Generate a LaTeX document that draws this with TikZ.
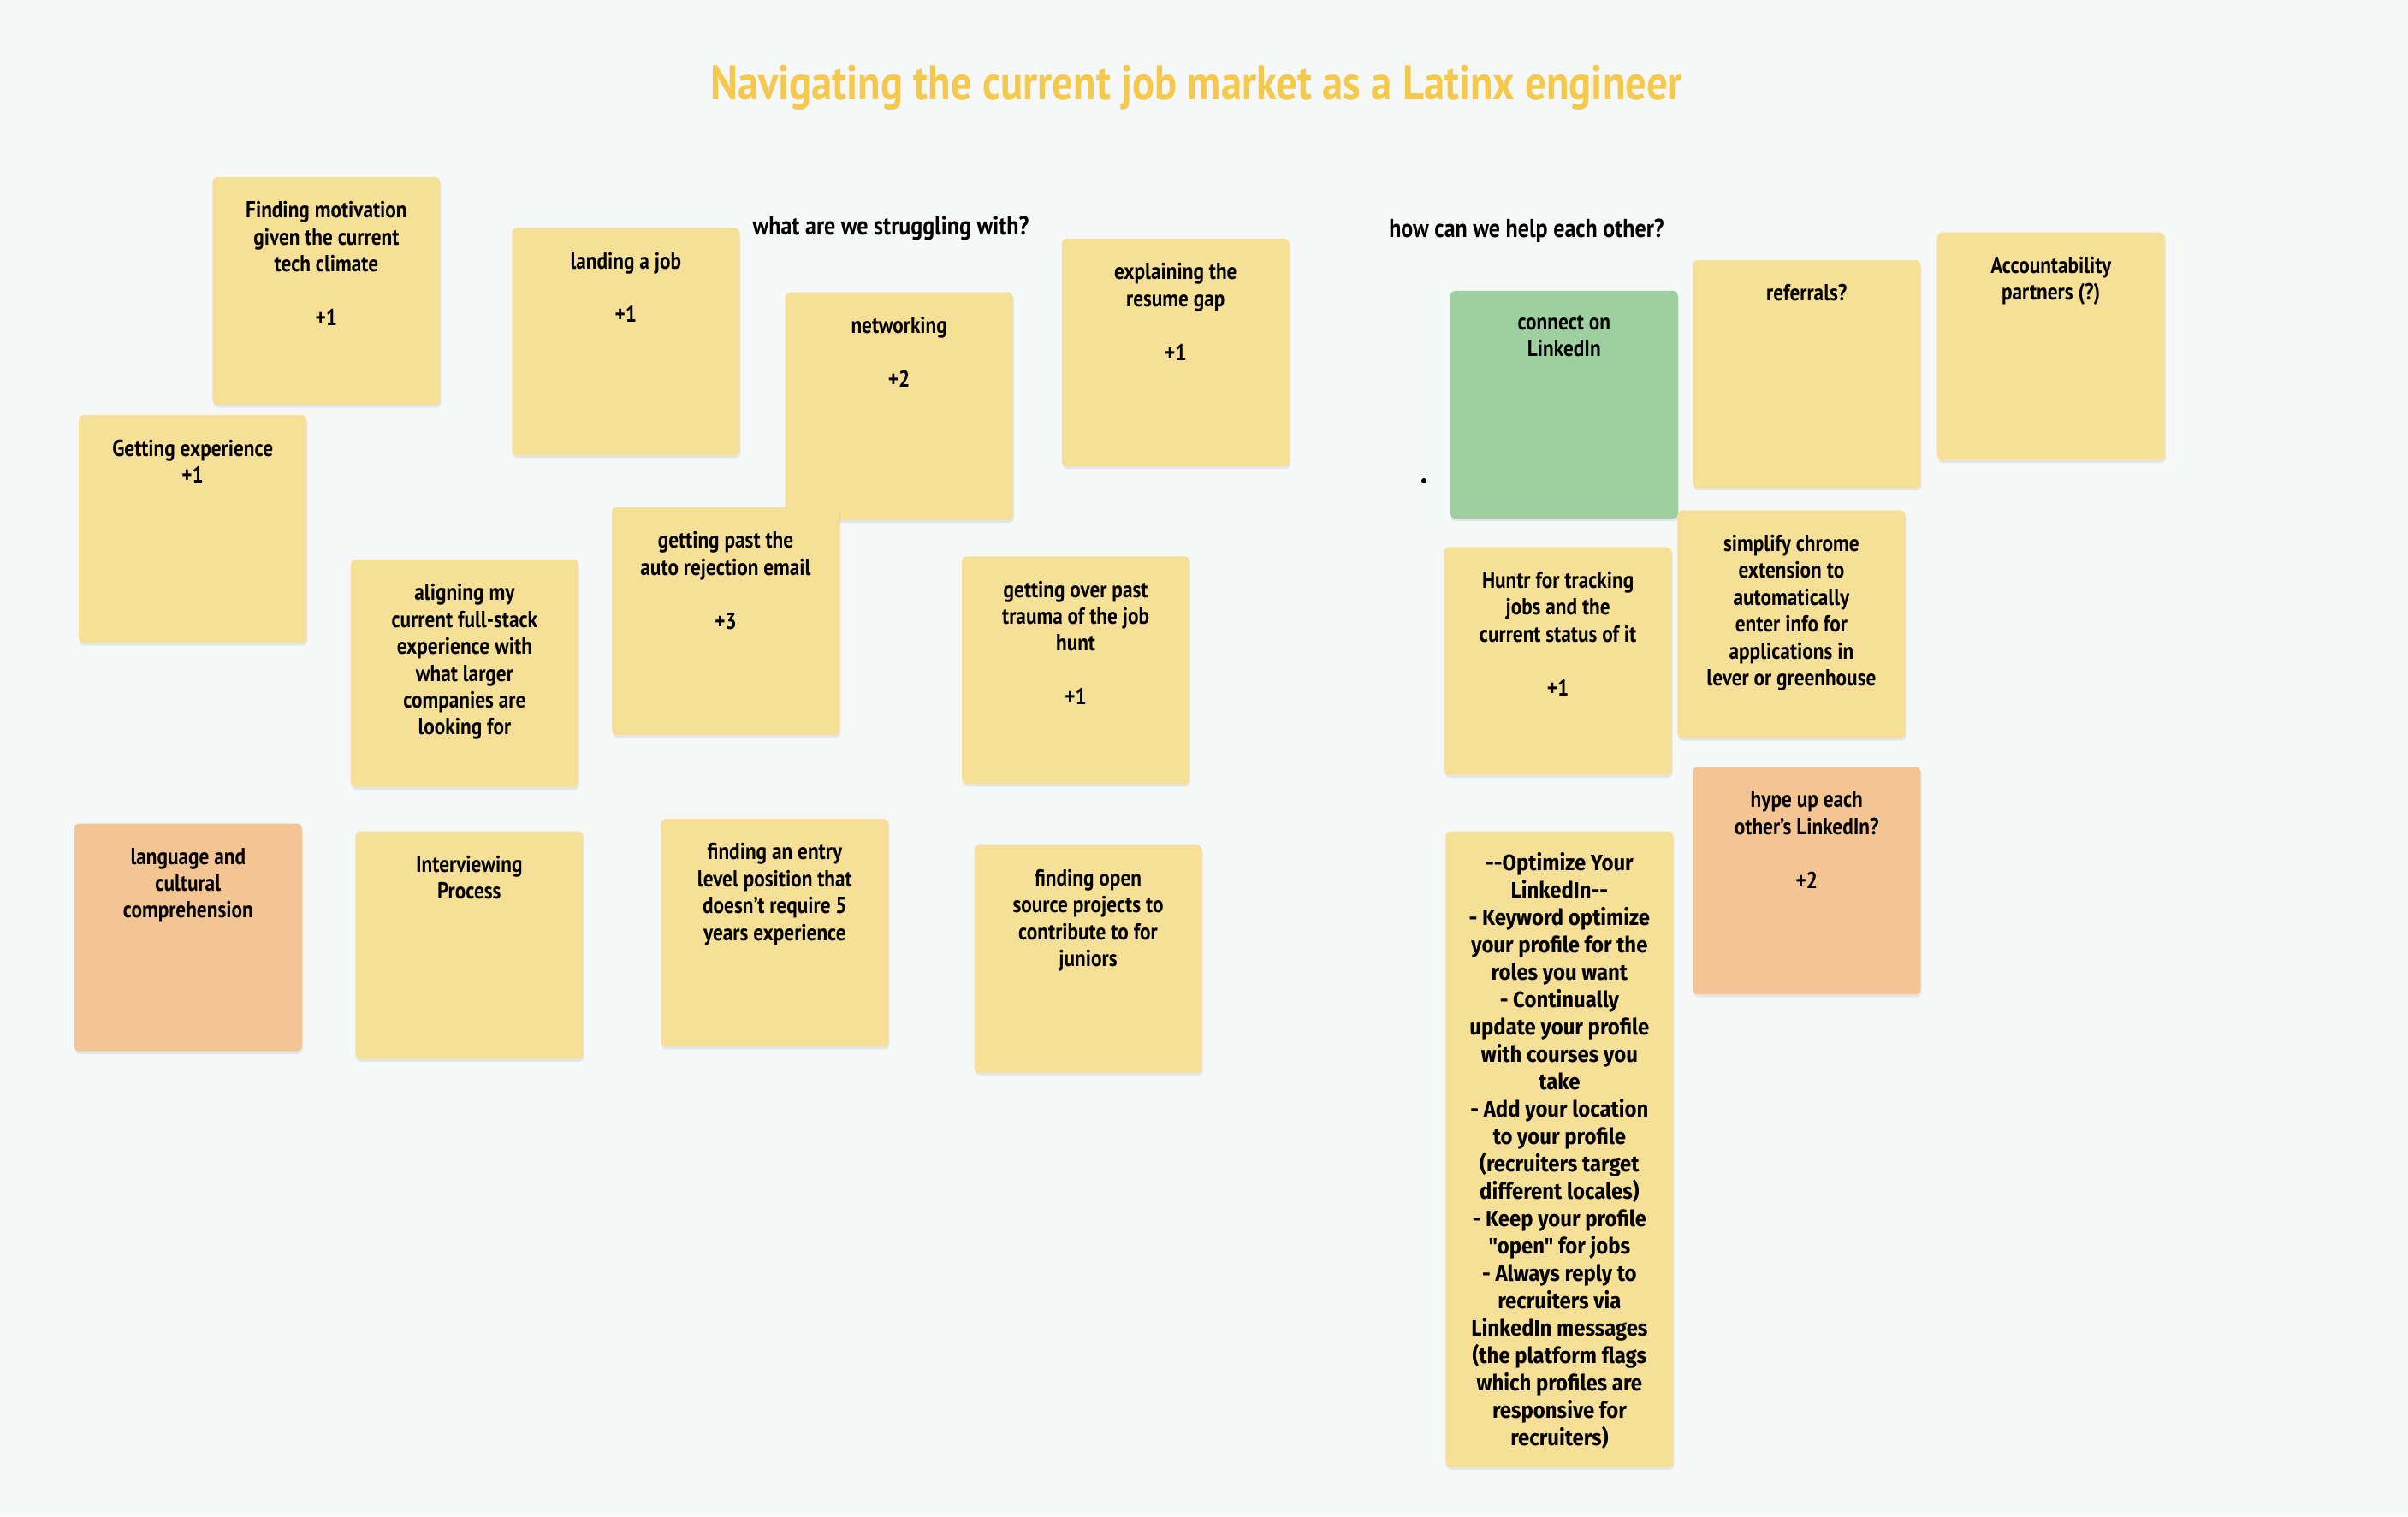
\documentclass[tikz,border=0pt]{standalone}
\usepackage{fontspec}
\setmainfont{PT Sans}[FakeStretch=0.86]
\newfontfamily\optfont{Fira Sans}[FakeStretch=0.92]
\usepackage{xcolor}
\usepackage{tikz}
\usetikzlibrary{positioning,shadows}

\definecolor{boardbg}{HTML}{F6F7F7}
\definecolor{noteyellow}{HTML}{F6DF96}
\definecolor{noteorange}{HTML}{F2C592}
\definecolor{notegreen}{HTML}{9DD09E}
\definecolor{titleyellow}{HTML}{F5C84E}

\begin{document}
\begin{tikzpicture}[
  sticky/.style={rectangle, anchor=north west, minimum width=2.66cm,
                 minimum height=2.66cm, rounded corners=1.5pt,
                 drop shadow={shadow xshift=0.3pt, shadow yshift=-0.9pt, opacity=0.15}},
  stickyY/.style={sticky, fill=noteyellow},
  stickyO/.style={sticky, fill=noteorange},
  stickyG/.style={sticky, fill=notegreen},
  notetxt/.style={align=center, inner sep=0pt, text=black,
                  font=\fontsize{7.7}{8.95}\selectfont\bfseries},
  heading/.style={inner sep=0pt, font=\fontsize{8.6}{10}\selectfont\bfseries},
]
\fill[boardbg] (0,0) rectangle (28.14,-17.72);
\useasboundingbox (0,0) rectangle (28.14,-17.72);

% title
\node[inner sep=0pt, text=titleyellow, font=\fontsize{16.1}{18}\selectfont\bfseries]
  (title) at (13.98,-1.02) {Navigating the current job market as a Latinx engineer};

% section headings
\node[heading] (hstruggle) at (10.41,-2.67) {what are we struggling with?};
\node[heading] (hhelp) at (17.84,-2.70) {how can we help each other?};

% struggles (left)
\node[stickyY] (motiv) at (2.477,-2.064) {};
\node[notetxt, below=0.285cm of motiv.north] {Finding motivation\\given the current\\tech climate\\[8.95pt]+1};

\node[stickyY] (landing) at (5.976,-2.656) {};
\node[notetxt, below=0.285cm of landing.north] {landing a job\\[8.95pt]+1};

\node[stickyY] (network) at (9.170,-3.410) {};
\node[notetxt, below=0.285cm of network.north] {networking\\[8.95pt]+2};

\node[stickyY] (resume) at (12.401,-2.782) {};
\node[notetxt, below=0.285cm of resume.north] {explaining the\\resume gap\\[8.95pt]+1};

\node[stickyY] (exper) at (0.915,-4.845) {};
\node[notetxt, below=0.285cm of exper.north] {Getting experience\\+1};

\node[stickyY] (align) at (4.092,-6.532) {};
\node[notetxt, below=0.285cm of align.north] {aligning my\\current full-stack\\experience with\\what larger\\companies are\\looking for};

\node[stickyY] (reject) at (7.143,-5.922) {};
\node[notetxt, below=0.285cm of reject.north] {getting past the\\auto rejection email\\[8.95pt]+3};

\node[stickyY] (trauma) at (11.234,-6.496) {};
\node[notetxt, below=0.285cm of trauma.north] {getting over past\\trauma of the job\\hunt\\[8.95pt]+1};

\node[stickyO] (lang) at (0.861,-9.619) {};
\node[notetxt, below=0.285cm of lang.north] {language and\\cultural\\comprehension};

\node[stickyY] (interv) at (4.146,-9.709) {};
\node[notetxt, below=0.285cm of interv.north] {Interviewing\\Process};

\node[stickyY] (entry) at (7.717,-9.565) {};
\node[notetxt, below=0.285cm of entry.north] {finding an entry\\level position that\\doesn't require 5\\years experience};

\node[stickyY] (oss) at (11.378,-9.870) {};
\node[notetxt, below=0.285cm of oss.north] {finding open\\source projects to\\contribute to for\\juniors};

% helping each other (right)
\node[stickyG] (connect) at (16.941,-3.392) {};
\node[notetxt, below=0.285cm of connect.north] {connect on\\LinkedIn};

\node[stickyY] (referral) at (19.776,-3.033) {};
\node[notetxt, below=0.285cm of referral.north] {referrals?};

\node[stickyY] (account) at (22.630,-2.710) {};
\node[notetxt, below=0.285cm of account.north] {Accountability\\partners (?)};

\node[stickyY] (huntr) at (16.869,-6.389) {};
\node[notetxt, below=0.285cm of huntr.north] {Huntr for tracking\\jobs and the\\current status of it\\[8.95pt]+1};

\node[stickyY] (simplify) at (19.597,-5.958) {};
\node[notetxt, below=0.285cm of simplify.north] {simplify chrome\\extension to\\automatically\\enter info for\\applications in\\lever or greenhouse};

\node[stickyO] (hype) at (19.776,-8.955) {};
\node[notetxt, below=0.285cm of hype.north] {hype up each\\other's LinkedIn?\\[8.95pt]+2};

\node[stickyY, minimum height=7.43cm] (optim) at (16.887,-9.709) {};
\node[notetxt, font=\optfont\fontsize{7.4}{9.1}\selectfont\bfseries, below=0.25cm of optim.north]
  {-{}-Optimize Your\\LinkedIn-{}-\\ - Keyword optimize\\your profile for the\\roles you want\\- Continually\\update your profile\\with courses you\\take\\- Add your location\\to your profile\\(recruiters target\\different locales)\\- Keep your profile\\"open" for jobs\\- Always reply to\\recruiters via\\LinkedIn messages\\(the platform flags\\which profiles are\\responsive for\\recruiters)};

% stray dot
\node[circle, fill=black, inner sep=0pt, minimum size=0.06cm] (dot) at (16.64,-5.62) {};
\end{tikzpicture}
\end{document}
